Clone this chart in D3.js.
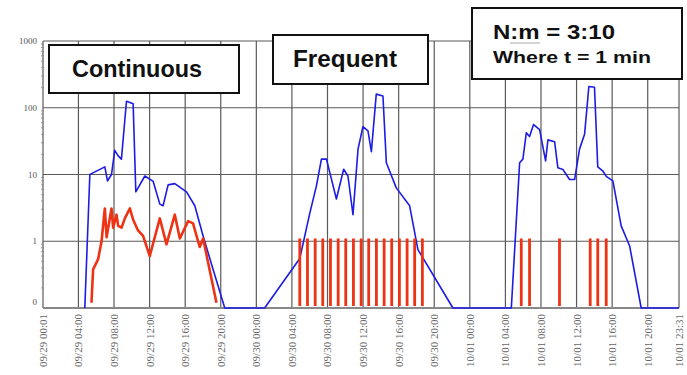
<!DOCTYPE html>
<html>
<head>
<meta charset="utf-8">
<script src="https://cdn.jsdelivr.net/npm/d3@7"></script>
<style>
  body { margin: 0; background: #fff; }
  svg { display: block; }
</style>
</head>
<body>
<div id="chart"></div>
<script>
////////// chart data /////////////
const tickLabels = ["09/29 00:01", "09/29 04:00", "09/29 08:00", "09/29 12:00", "09/29 16:00",
  "09/29 20:00", "09/30 00:00", "09/30 04:00", "09/30 08:00", "09/30 12:00", "09/30 16:00",
  "09/30 20:00", "10/01 00:00", "10/01 04:00", "10/01 08:00", "10/01 12:00", "10/01 16:00",
  "10/01 20:00", "10/01 23:31"];
const yTicks = [0.1, 1, 10, 100, 1000];
const yTickLabels = ["0", "1", "10", "100", "1000"];

// blue trace (log scale, 0 drawn at the floor)
const blueTimes = [
  "09/29 04:43", "09/29 05:17", "09/29 05:28", "09/29 06:58", "09/29 07:16", "09/29 07:43",
  "09/29 08:05", "09/29 08:28", "09/29 08:50", "09/29 09:24", "09/29 10:09", "09/29 10:27",
  "09/29 11:28", "09/29 12:24", "09/29 13:09", "09/29 13:31", "09/29 14:05", "09/29 14:50",
  "09/29 16:09", "09/29 17:05", "09/29 18:01", "09/29 19:08", "09/29 20:27",
  "09/30 00:56", "09/30 04:53", "09/30 06:00", "09/30 06:45", "09/30 07:19", "09/30 07:53",
  "09/30 09:00", "09/30 09:49", "09/30 10:18", "09/30 10:52", "09/30 11:26", "09/30 11:59",
  "09/30 12:33", "09/30 12:56", "09/30 13:29", "09/30 14:14", "09/30 14:37", "09/30 15:44",
  "09/30 17:14", "09/30 18:10", "09/30 22:06",
  "10/01 04:40", "10/01 05:36", "10/01 05:58", "10/01 06:21", "10/01 06:43", "10/01 07:10",
  "10/01 07:51", "10/01 08:31", "10/01 08:47", "10/01 09:32", "10/01 09:54", "10/01 10:28",
  "10/01 11:13", "10/01 11:47", "10/01 12:20", "10/01 12:54", "10/01 13:23", "10/01 14:01",
  "10/01 14:23", "10/01 14:58", "10/01 15:20", "10/01 16:05", "10/01 17:01", "10/01 17:58",
  "10/01 19:16", "10/01 23:31"];
const blueValues = [
  0, 10, 10.3, 13, 8, 10, 23, 19, 17, 125, 115, 5.5, 9.5, 7.9, 3.6, 3.4, 7, 7.3, 5.5, 3.4, 1.2, 0.38, 0,
  0, 0.55, 2.6, 6.7, 17, 17, 4.3, 12, 9.5, 2.5, 24, 52, 45, 22, 160, 150, 15, 6.3, 3.4, 0.75, 0,
  0, 15, 17, 42, 37, 56, 47, 16, 33, 31, 12.6, 11.9, 8.4, 8.4, 24, 40, 208, 203, 13, 11.2, 9.4, 8,
  1.7, 0.85, 0, 0];

// red trace, continuous period
const redTimes = [
  "09/29 05:28", "09/29 05:39", "09/29 06:13", "09/29 06:36", "09/29 06:58", "09/29 07:10",
  "09/29 07:43", "09/29 07:54", "09/29 08:17", "09/29 08:28", "09/29 08:51", "09/29 09:13",
  "09/29 09:47", "09/29 10:09", "09/29 10:42", "09/29 11:16", "09/29 12:01", "09/29 13:09",
  "09/29 13:54", "09/29 14:50", "09/29 15:24", "09/29 16:20", "09/29 16:53", "09/29 17:38",
  "09/29 18:01", "09/29 19:31"];
const redValues = [
  0.12, 0.38, 0.54, 1.0, 3.1, 1.15, 3.1, 1.6, 2.5, 1.7, 1.6, 2.2, 3.1, 2.1, 1.45, 1.2, 0.6, 2.2,
  0.9, 2.5, 1.1, 2.0, 1.85, 0.82, 1.1, 0.12];

// red samples, frequent period and sparse period
const frequentTimes = [
  "09/30 04:53", "09/30 05:45", "09/30 06:37", "09/30 07:28", "09/30 08:20", "09/30 09:12",
  "09/30 10:03", "09/30 10:55", "09/30 11:47", "09/30 12:38", "09/30 13:30", "09/30 14:22",
  "09/30 15:13", "09/30 16:05", "09/30 16:57", "09/30 17:48", "09/30 18:40"];
const sparseTimes = ["10/01 05:47", "10/01 06:43", "10/01 10:05", "10/01 13:32", "10/01 14:23", "10/01 15:20"];
const sampleValue = 1.1;

////////// drawing /////////////
const width = 687, height = 375;
const parseT = d3.timeParse("%m/%d %H:%M");
const floorVal = 0.1;
const BLUE = "#1c1ce6", RED = "#ee3214", GRID = "#5a5a5a";

const svg = d3.select("#chart").append("svg")
  .attr("width", width).attr("height", height);

const x = d3.scaleTime()
  .domain([parseT("09/29 00:01"), parseT("10/01 23:31")])
  .range([43, 679]);
const y = d3.scaleLog().domain([0.1, 1000]).range([308, 41]);
const yv = v => y(Math.max(v, floorVal));

// gridlines
const grid = svg.append("g");
grid.selectAll("line.v").data(tickLabels).enter().append("line")
  .attr("x1", d => x(parseT(d))).attr("x2", d => x(parseT(d)))
  .attr("y1", y(1000)).attr("y2", y(0.1))
  .attr("stroke", GRID).attr("stroke-width", 1.2);
grid.selectAll("line.h").data(yTicks).enter().append("line")
  .attr("x1", x.range()[0]).attr("x2", x.range()[1])
  .attr("y1", d => y(d)).attr("y2", d => y(d))
  .attr("stroke", d => d === 0.1 ? "#888" : GRID).attr("stroke-width", d => d === 0.1 ? 2 : 1.2);

// minor y ticks on left axis
const minor = [];
[0.1, 1, 10, 100].forEach(dec => { for (let k = 2; k <= 9; k++) minor.push(dec * k); });
grid.selectAll("line.m").data(minor).enter().append("line")
  .attr("x1", 41).attr("x2", 44)
  .attr("y1", d => y(d)).attr("y2", d => y(d))
  .attr("stroke", "#888").attr("stroke-width", 0.8);

// y labels
svg.append("g").selectAll("text").data(yTicks).enter().append("text")
  .attr("x", 37).attr("y", d => y(d) + (d === 0.1 ? -3 : 3))
  .attr("text-anchor", "end")
  .attr("font-family", "Liberation Serif, serif").attr("font-size", 9)
  .attr("fill", "#555")
  .text((d, i) => yTickLabels[i]);

// x labels
svg.append("g").selectAll("text").data(tickLabels).enter().append("text")
  .attr("transform", d => `translate(${x(parseT(d)) + 4},${314}) rotate(-90)`)
  .attr("text-anchor", "end")
  .attr("font-family", "Liberation Serif, serif").attr("font-size", 11)
  .attr("fill", "#666")
  .text(d => d);

// blue line
const blueData = blueTimes.map((t, i) => ({ t: parseT(t), v: blueValues[i] }));
svg.append("path").datum(blueData)
  .attr("fill", "none").attr("stroke", BLUE).attr("stroke-width", 1.6)
  .attr("stroke-linejoin", "round")
  .attr("d", d3.line().x(d => x(d.t)).y(d => yv(d.v)));

// red continuous line
const redData = redTimes.map((t, i) => ({ t: parseT(t), v: redValues[i] }));
svg.append("path").datum(redData)
  .attr("fill", "none").attr("stroke", RED).attr("stroke-width", 2.6)
  .attr("stroke-linejoin", "round")
  .attr("d", d3.line().x(d => x(d.t)).y(d => yv(d.v)));

// red sample bars
svg.append("g").selectAll("line").data(frequentTimes.concat(sparseTimes)).enter().append("line")
  .attr("x1", d => x(parseT(d))).attr("x2", d => x(parseT(d)))
  .attr("y1", yv(sampleValue)).attr("y2", y(floorVal) - 2)
  .attr("stroke", RED).attr("stroke-width", 2.8);

// annotation boxes
function box(x0, y0, w, h) {
  svg.append("rect").attr("x", x0).attr("y", y0).attr("width", w).attr("height", h)
    .attr("fill", "#fff").attr("stroke", "#111").attr("stroke-width", 2);
}
function label(txt, tx, ty, size, len) {
  const t = svg.append("text").attr("x", tx).attr("y", ty)
    .attr("font-family", "Liberation Sans, Arial, sans-serif").attr("font-weight", "bold")
    .attr("font-size", size).attr("fill", "#111").text(txt);
  if (len) t.attr("textLength", len).attr("lengthAdjust", "spacingAndGlyphs");
}
box(49, 45, 190, 48);
label("Continuous", 72, 77, 23.5, 130);
box(273, 35, 155, 49);
label("Frequent", 293, 67, 23.5, 104);
box(472, 8, 210, 71);
label("N:m = 3:10", 493, 39, 20, 122);
label("Where t = 1 min", 493, 63, 17, 158);
svg.append("line").attr("x1", 510).attr("x2", 540).attr("y1", 43).attr("y2", 43)
  .attr("stroke", "#aaa").attr("stroke-width", 1);
</script>
</body>
</html>
